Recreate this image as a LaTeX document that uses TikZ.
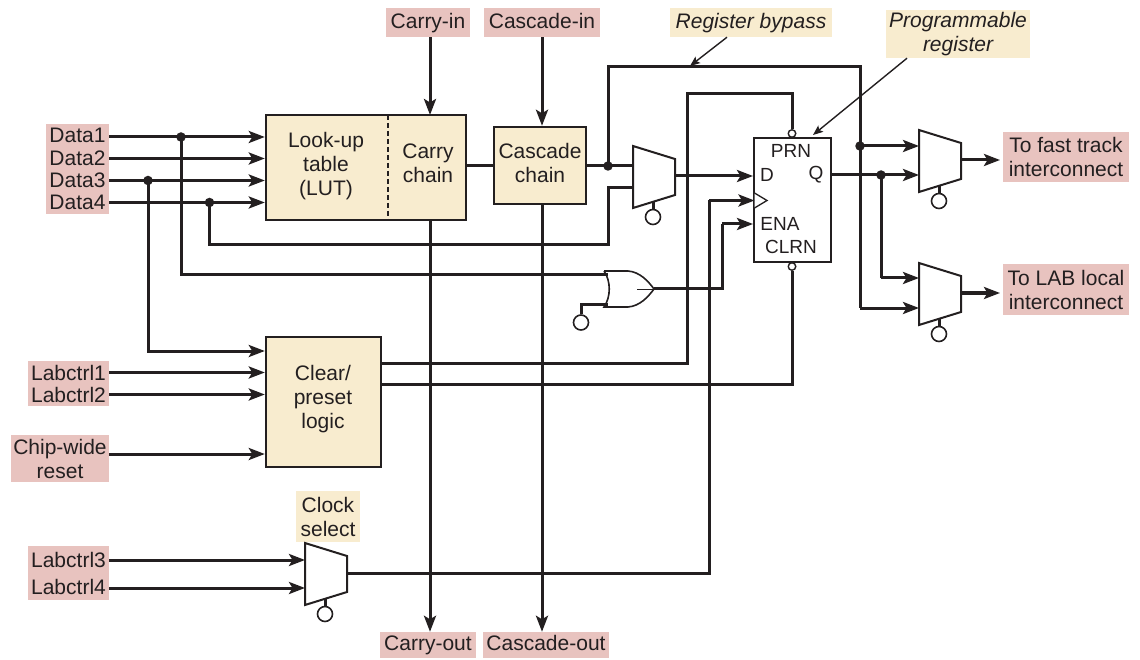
\documentclass[tikz,border=0pt]{standalone}
\usepackage{fontspec}
\setmainfont{Liberation Sans}
\usetikzlibrary{arrows.meta,calc}
\definecolor{ink}{HTML}{231F20}
\definecolor{pinkb}{HTML}{E8C3BF}
\definecolor{creamb}{HTML}{F8ECCF}
\tikzset{
  wire/.style={draw=ink,line width=3pt,line join=miter},
  arw/.style={wire,-{Stealth[length=16pt,width=12pt,inset=3.5pt]}},
  thinarw/.style={draw=ink,line width=1.4pt,-{Stealth[length=10pt,width=8pt,inset=2pt]}},
  lab/.style={inner sep=0pt,align=center,text=ink,font=\fontsize{21}{24}\selectfont},
  pinklab/.style={lab,fill=pinkb},
  creamlab/.style={lab,fill=creamb},
  toplab/.style={text height=16pt,text depth=4pt},
  botlab/.style={text height=15pt,text depth=5pt},
  blockbox/.style={draw=ink,line width=2.4pt,fill=creamb,inner sep=0pt},
  ffbox/.style={draw=ink,line width=2pt,fill=white,inner sep=0pt},
  fftext/.style={inner sep=0pt,text=ink,font=\fontsize{19}{21}\selectfont},
  dot/.style={circle,fill=ink,inner sep=0pt,minimum size=9.5pt},
  sel/.style={circle,draw=ink,line width=1.6pt,fill=white,inner sep=0pt,minimum size=15pt},
  bub/.style={circle,draw=ink,line width=1.4pt,fill=white,inner sep=0pt,minimum size=7.5pt},
}
% name, left x, top y
\newcommand{\muxat}[3]{%
  \draw[draw=ink,line width=2pt,fill=white,line join=miter]
    (#2,#3) -- (#2+42,#3+13) -- (#2+42,#3+49) -- (#2,#3+62) -- cycle;
  \coordinate (#1-w) at (#2,#3+30);
  \coordinate (#1-out) at (#2+42,#3+30);
  \coordinate (#1-b) at (#2+20,#3+56);
  \node[sel] (#1-c) at (#2+20,#3+71) {};
  \draw[wire] (#1-b) -- (#1-c);
}
\begin{document}
\begin{tikzpicture}[x=1pt,y=-1pt]
\useasboundingbox (0,0) rectangle (1140,660);

% --- labels
\node[pinklab,minimum width=63pt,minimum height=23pt] (d1) at (77.5,135.5) {Data1};
\node[pinklab,minimum width=63pt,minimum height=22pt] (d2) at (77.5,158) {Data2};
\node[pinklab,minimum width=63pt,minimum height=22pt] (d3) at (77.5,180) {Data3};
\node[pinklab,minimum width=63pt,minimum height=23pt] (d4) at (77.5,202.5) {Data4};
\node[pinklab,minimum width=81pt,minimum height=23pt] (l1) at (68.5,372.5) {Labctrl1};
\node[pinklab,minimum width=81pt,minimum height=23pt] (l2) at (68.5,394.5) {Labctrl2};
\node[pinklab,minimum width=98pt,minimum height=47pt] (rst) at (60,458.5) {Chip-wide\\reset};
\node[pinklab,minimum width=81pt,minimum height=27pt] (l3) at (68.5,559.5) {Labctrl3};
\node[pinklab,minimum width=81pt,minimum height=27pt] (l4) at (68.5,586.5) {Labctrl4};
\node[pinklab,toplab,minimum width=84pt,minimum height=29pt] (cin) at (428,22.5) {Carry-in};
\node[pinklab,toplab,minimum width=116pt,minimum height=29pt] (csin) at (542,22.5) {Cascade-in};
\node[pinklab,botlab,minimum width=96pt,minimum height=26pt] (cout) at (428,645) {Carry-out};
\node[pinklab,botlab,minimum width=126pt,minimum height=26pt] (csout) at (546,645) {Cascade-out};
\node[pinklab,minimum width=126pt,minimum height=50pt] (fast) at (1066,157) {To fast track\\interconnect};
\node[pinklab,minimum width=126pt,minimum height=50pt] (lab) at (1066,289.5) {To LAB local\\interconnect};
\node[creamlab,toplab,minimum width=162pt,minimum height=29pt,font=\fontsize{21}{24}\selectfont\itshape] (byp) at (751,22.5) {Register bypass};
\node[creamlab,minimum width=144pt,minimum height=48pt,font=\fontsize{21}{24}\selectfont\itshape] (prog) at (958,34) {Programmable\\register};
\node[creamlab,minimum width=64pt,minimum height=51pt] (csel) at (328,516.5) {Clock\\select};

% --- blocks
\node[blockbox,minimum width=200pt,minimum height=105pt] (lut) at (366,167.5) {};
\node[blockbox,minimum width=92pt,minimum height=77pt] (cas) at (540,165.5) {};
\node[blockbox,minimum width=115pt,minimum height=130pt] (clr) at (323.5,402) {};
\node[lab] (luttxt) at (326,166) {Look-up\\table\\(LUT)};
\node[lab] (cartxt) at (428,163.5) {Carry\\chain};
\node[lab] (castxt) at (540,162.5) {Cascade\\chain};
\node[lab] (clrtxt) at (323,399) {Clear/\\preset\\logic};
\coordinate (dashT) at (388,115);
\coordinate (dashB) at (388,220);
\draw[draw=ink,line width=2.8pt,dash pattern=on 5pt off 3pt] (dashT) -- (dashB);

% --- register
\node[ffbox,minimum width=77pt,minimum height=124pt] (ff) at (792.5,200) {};
\node[fftext] (prn) at (791,151) {PRN};
\node[fftext] (dd) at (767,175) {D};
\node[fftext] (qq) at (816,175) {Q};
\node[fftext] (ena) at (780,224) {ENA};
\node[fftext] (clrn) at (791,247) {CLRN};
\coordinate (ckA) at (754.5,193);
\coordinate (ckB) at (767,200.5);
\coordinate (ckC) at (754.5,208);
\draw[draw=ink,line width=1.3pt,fill=white,line join=miter] (ckA) -- (ckB) -- (ckC);
\node[bub] (pbub) at (792,133.5) {};
\node[bub] (cbub) at (792,266.5) {};

% --- muxes
\muxat{m1}{633}{146}
\muxat{m2}{919}{130}
\muxat{m3}{919}{263}
\muxat{m4}{305}{543}

% --- OR gate
\coordinate (orT) at (604,271);
\coordinate (orB) at (604,307);
\coordinate (orOut) at (654,289);
\coordinate (orM) at (637,289);
\draw[draw=ink,line width=1.6pt,fill=white,line join=miter]
  (orT) -- (628,271) .. controls (640,272) and (648,281) .. (orOut)
  .. controls (648,297) and (640,306) .. (628,307) -- (orB)
  .. controls (611,297) and (611,281) .. (orT);
\draw[draw=ink,line width=.7pt] (orM) -- (orOut);
\node[sel] (orsel) at (581,322.5) {};
\coordinate (orIn1) at (607.5,275);
\coordinate (orIn2) at (607.5,304);

% --- junctions
\node[dot] (j1) at (181,137) {};
\node[dot] (j3) at (148,180.5) {};
\node[dot] (j4) at (209.5,202.5) {};
\node[dot] (jc) at (608,166) {};
\node[dot] (jb) at (860,146) {};
\node[dot] (jq) at (881,175) {};
\coordinate (topB) at (860,67);
\coordinate (topP) at (687.5,94);
\coordinate (clk) at (709,573);
\coordinate (enaC) at (722,224);
\coordinate (low) at (608,245);
\coordinate (lowB) at (860,308);
\coordinate (clkIn) at (754.5,200.5);

% --- wires: inputs
\draw[arw] (d1.east |- j1) -- (j1 -| lut.west);
\draw[arw] (d2.east |- 0,158.5) -- (lut.west |- 0,158.5);
\draw[arw] (d3.east |- j3) -- (j3 -| lut.west);
\draw[arw] (d4.east |- j4) -- (j4 -| lut.west);
\draw[arw] (j3.center) |- (clr.west |- 0,351);
\draw[wire] (j1.center) |- (orIn1);
\draw[wire] (j4.center) |- (low) |- (m1-w |- 0,188);
\draw[arw] (l1.east) -- (l1.east -| clr.west);
\draw[arw] (l2.east) -- (l2.east -| clr.west);
\draw[arw] (rst.east |- 0,454) -- (clr.west |- 0,454);
\draw[arw] (l3.east |- 0,560) -- (m4-w |- 0,560);
\draw[arw] (l4.east |- 0,588) -- (m4-w |- 0,588);
\draw[wire] (orIn2) -| (orsel.north);

% --- vertical chains
\draw[arw] (cin.south -| 430,0) -- (430,115);
\draw[arw] (csin.south -| 542,0) -- (cas.north -| 542,0);
\draw[arw] (430,220) -- (cout.north -| 430,0);
\draw[arw] (542,204) -- (csout.north -| 542,0);
\draw[wire] (lut.east |- jc) -- (jc -| cas.west);
\draw[wire] (cas.east |- jc) -- (jc -| m1-w);

% --- register connections
\draw[wire] (jc.center) |- (topB) -- (lowB);
\draw[arw] (lowB) -- (lowB -| m3-w);
\draw[arw] (jb.center) -- (jb -| m2-w);
\draw[arw] (m1-out) -- (m1-out -| ff.west);
\draw[wire] (clr.east |- 0,363) -| (topP) -| (pbub.north);
\draw[wire] (clr.east |- 0,384) -| (cbub.south);
\draw[wire] (m4-out) -| (clkIn -| clk);
\draw[arw] (clkIn -| clk) -- (clkIn);
\draw[wire] (orOut) -| (enaC);
\draw[arw] (enaC) -- (enaC -| ff.west);
\draw[arw] (ff.east |- jq) -- (jq -| m2-w);
\draw[wire] (jq.center) |- (881,278);
\draw[arw] (881,278) -- (m3-w |- 0,278);
\draw[arw] (m2-out |- 0,160) -- (1000,160);
\draw[arw] (m3-out) -- (1000,293);

% --- callouts
\coordinate (bypTip) at (690,66);
\coordinate (progTip) at (813,135);
\draw[thinarw] (byp.south -| 727,0) -- (bypTip);
\draw[thinarw] (prog.south -| 907,0) -- (progTip);
\end{tikzpicture}
\end{document}
